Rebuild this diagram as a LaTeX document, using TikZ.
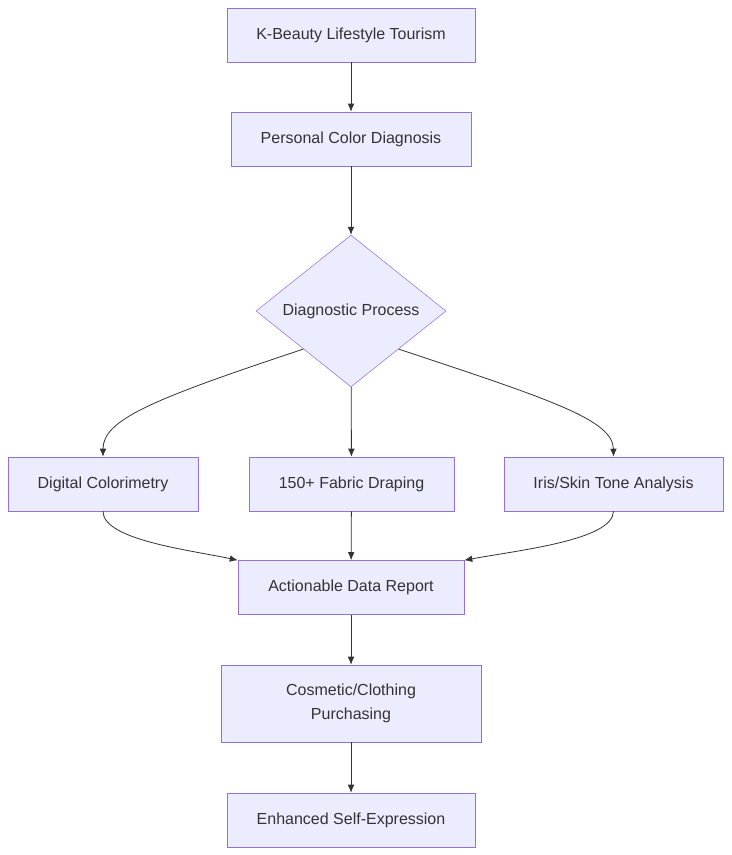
\documentclass[tikz,border=0pt]{standalone}
\usepackage{fontspec}
\setmainfont{Liberation Sans}
\usetikzlibrary{shapes.geometric,arrows.meta}
\definecolor{boxfill}{HTML}{ECECFF}
\definecolor{boxline}{HTML}{9370DB}
\definecolor{ink}{HTML}{333333}
\begin{document}
\begin{tikzpicture}[x=0.75pt,y=-0.75pt]
	\tikzset{box/.style={draw=boxline,fill=boxfill,text=ink,font=\fontsize{12}{18}\selectfont,align=center,inner sep=0pt,minimum height=40.5pt},
	link/.style={draw=ink,line width=0.6pt,-{Latex[length=6pt,width=5pt]}}}
	\useasboundingbox (0,0) rectangle (731,855);
	\node[box,minimum width=186pt] (tour) at (351,35) {K-Beauty Lifestyle Tourism};
	\node[box,minimum width=180pt] (diag) at (351,139) {Personal Color Diagnosis};
	\node[box,diamond,aspect=1,minimum width=142.5pt] (proc) at (351,311) {Diagnostic Process};
	\node[box,minimum width=142.5pt] (digi) at (103,484) {Digital Colorimetry};
	\node[box,minimum width=153.75pt] (drape) at (351.5,484) {150+ Fabric Draping};
	\node[box,minimum width=164.25pt] (iris) at (613.5,484) {Iris/Skin Tone Analysis};
	\node[box,minimum width=169.5pt] (rep) at (351,587.5) {Actionable Data Report};
	\node[box,minimum width=195pt,minimum height=57.75pt] (buy) at (351,703.5) {Cosmetic/Clothing\\Purchasing};
	\node[box,minimum width=186pt] (self) at (351,820) {Enhanced Self-Expression};
	\draw[link] (tour) -- (diag);
	\draw[link] (diag) -- (proc);
	\draw[link] (proc.south west) .. controls (150,400) and (103,420) .. (digi.north);
	\draw[link] (proc) -- (drape);
	\draw[link] (proc.south east) .. controls (552,400) and (613,420) .. (iris.north);
	\draw[link] (digi.south) .. controls (103,540) and (190,550) .. (rep.north west);
	\draw[link] (drape) -- (rep);
	\draw[link] (iris.south) .. controls (613,540) and (520,550) .. (rep.north east);
	\draw[link] (rep) -- (buy);
	\draw[link] (buy) -- (self);
\end{tikzpicture}
\end{document}
